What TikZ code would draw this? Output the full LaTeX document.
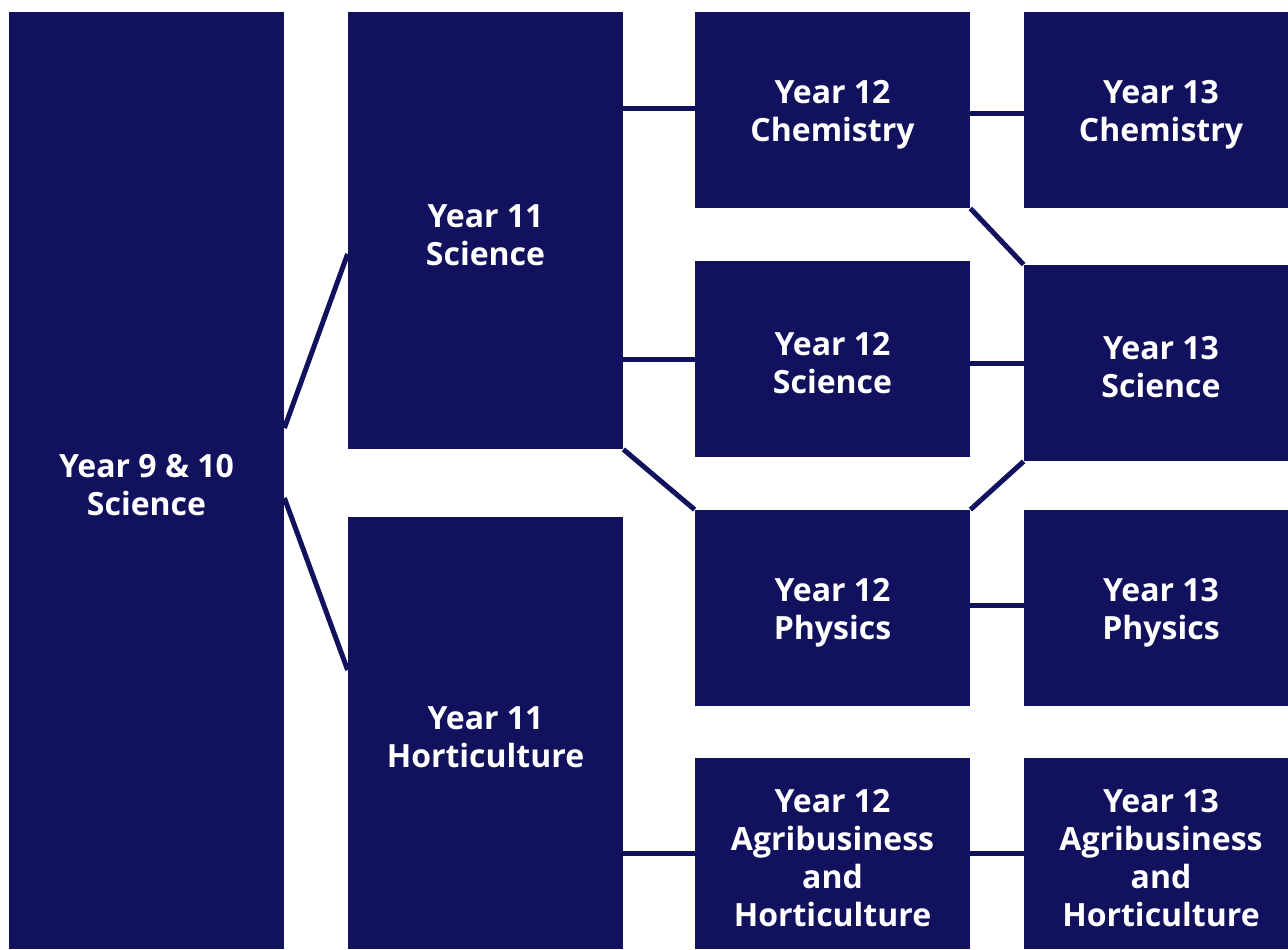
\documentclass[tikz,border=0pt]{standalone}
\usepackage{fontspec}
\setmainfont{Open Sans}
\usetikzlibrary{positioning}

\definecolor{navy}{RGB}{17,17,94}
\tikzset{
        box/.style={fill=navy, text=white, inner sep=0pt, align=center,
                font=\fontsize{16}{19}\selectfont\bfseries},
        link/.style={draw=navy, line width=2.5pt}
}
% pushes the first line a little lower in its box
\newcommand{\toppad}{\rule{0pt}{16pt}}

\begin{document}
\begin{tikzpicture}[x=0.5pt, y=-0.5pt]
        \useasboundingbox (0, 0) rectangle (1288, 949);
        % year 9 & 10 and year 11
        \node[box, minimum width=137.5pt, minimum height=468.5pt] (y910) at (146.5, 480.5) {\toppad Year 9 \& 10\\Science};
        \node[box, minimum width=137.5pt, minimum height=218.5pt] (y11s) at (485.5, 230.5) {\toppad Year 11\\Science};
        \node[box, minimum width=137.5pt, minimum height=216pt] (y11h) at (485.5, 733) {\toppad Year 11\\Horticulture};
        % year 12
        \node[box, minimum width=137.5pt, minimum height=98pt] (y12c) at (832.5, 110) {\toppad Year 12\\Chemistry};
        \node[box, minimum width=137.5pt, minimum height=98pt] (y12s) at (832.5, 359) {\toppad Year 12\\Science};
        \node[box, minimum width=137.5pt, minimum height=98pt] (y12p) at (832.5, 608) {\toppad Year 12\\Physics};
        \node[box, minimum width=137.5pt, minimum height=95.5pt] (y12a) at (832.5, 853.5) {\toppad Year 12\\Agribusiness\\and\\Horticulture};
        % year 13
        \node[box, minimum width=137pt, minimum height=98pt] (y13c) at (1161, 110) {\toppad Year 13\\Chemistry};
        \node[box, minimum width=137pt, minimum height=98pt] (y13s) at (1161, 363) {\toppad Year 13\\Science};
        \node[box, minimum width=137pt, minimum height=98pt] (y13p) at (1161, 608) {\toppad Year 13\\Physics};
        \node[box, minimum width=137pt, minimum height=95.5pt] (y13a) at (1161, 853.5) {\toppad Year 13\\Agribusiness\\and\\Horticulture};

        \draw[link] ([yshift=26.25pt]y910.east) -- ([yshift=-11.75pt]y11s.west);
        \draw[link] ([yshift=-8.75pt]y910.east) -- ([yshift=31.5pt]y11h.west);
        \draw[link] ([yshift=1pt]y11s.east |- y12c.west) -- ([yshift=1pt]y12c.west);
        \draw[link] (y11s.east |- y12s.west) -- (y12s.west);
        \draw[link] (y11s.south east) -- (y12p.north west);
        \draw[link] (y11h.east |- y12a.west) -- (y12a.west);
        \draw[link] ([yshift=-1.75pt]y12c.east) -- ([yshift=-1.75pt]y13c.west);
        \draw[link] (y12c.south east) -- (y13s.north west);
        \draw[link] (y12s.east |- y13s.west) -- (y13s.west);
        \draw[link] (y12p.north east) -- (y13s.south west);
        \draw[link] ([yshift=1.5pt]y12p.east) -- ([yshift=1.5pt]y13p.west);
        \draw[link] (y12a.east) -- (y13a.west);
\end{tikzpicture}
\end{document}
